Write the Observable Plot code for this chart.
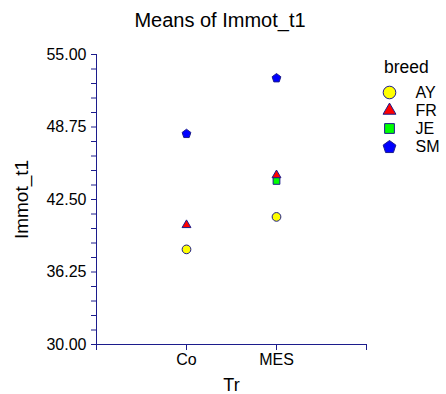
<!DOCTYPE html>
<html>
<head>
<meta charset="utf-8">
<script src="https://cdn.jsdelivr.net/npm/d3@7"></script>
<script src="https://cdn.jsdelivr.net/npm/@observablehq/plot@0.6"></script>
<style>
  html, body { margin: 0; padding: 0; background: #fff; }
  #wrap { position: relative; width: 446px; height: 394px; font-family: "Liberation Sans", Arial, sans-serif; color: #000; overflow: hidden; }
  #title { position: absolute; left: 0; width: 440px; top: 7px; text-align: center; font-size: 20px; line-height: 26px; }
  #chart { position: absolute; left: 0; top: 0; }
  #legTitle { position: absolute; left: 384px; top: 56px; font-size: 17.5px; line-height: 22px; }
  #legend { position: absolute; left: 376px; top: 80px; }
</style>
</head>
<body>
<div id="wrap">
  <div id="chart"></div>
  <div id="title">Means of Immot_t1</div>
  <div id="legTitle">breed</div>
  <div id="legend"></div>
</div>
<script>
// ---- data ----
const title = "Means of Immot_t1";
const xTitle = "Tr";
const yTitle = "Immot_t1";
const legendTitle = "breed";
const trCategories = ["Co", "MES"];
const breeds = ["AY", "FR", "JE", "SM"];
const coMeans = [38.2, 40.3, null, 48.2];
const mesMeans = [41.0, 44.6, 44.1, 53.0];
const yTickValues = [30, 36.25, 42.5, 48.75, 55];
const yTickLabels = ["30.00", "36.25", "42.50", "48.75", "55.00"];
const yMinorStep = 1.25;

// ---- styles ----
const breedFills = ["#ffff00", "#ff0000", "#00ff00", "#0000ff"];
const breedMarkerR = [4.35, 3.3, 3.8, 4.0];
const legendScale = 1.45;
const navy = "#1c1c8c";
const font = "'Liberation Sans', Arial, sans-serif";

// ---- derived ----
const yDomain = [yTickValues[0], yTickValues[yTickValues.length - 1]];
const xDomain = [0, trCategories.length + 1];
const seriesByTr = [coMeans, mesMeans];
const rows = [];
trCategories.forEach((tr, i) => {
  breeds.forEach((b, j) => {
    const v = seriesByTr[i][j];
    if (v != null) rows.push({tr, pos: i + 1, breed: b, value: v});
  });
});
const rFor = b => breedMarkerR[breeds.indexOf(b)];
const yTicks = d3.range(0, Math.round((yDomain[1] - yDomain[0]) / yMinorStep) + 1).map(k => yDomain[0] + k * yMinorStep);
const yLabelFor = v => {
  const idx = yTickValues.findIndex(t => Math.abs(t - v) < 1e-9);
  return idx >= 0 ? yTickLabels[idx] : "";
};
const xTicks = d3.range(xDomain[0], xDomain[1] + 1);
const xLabelFor = v => (v >= 1 && v <= trCategories.length ? trCategories[v - 1] : "");

// custom pentagon symbol (point up, flat bottom)
const pentagon = {
  draw(ctx, size) {
    const R = Math.sqrt(size / (2.5 * Math.sin(2 * Math.PI / 5)));
    for (let k = 0; k < 5; ++k) {
      const a = -Math.PI / 2 + k * 2 * Math.PI / 5;
      const px = R * Math.cos(a), py = R * Math.sin(a) + R * 0.1;
      if (k === 0) ctx.moveTo(px, py); else ctx.lineTo(px, py);
    }
    ctx.closePath();
  }
};
const breedSymbols = ["circle", "triangle", "square", pentagon];

const symbolScale = {domain: breeds, range: breedSymbols};
const colorScale = {domain: breeds, range: breedFills};

document.getElementById("title").textContent = title;
document.getElementById("legTitle").textContent = legendTitle;

const chart = Plot.plot({
  width: 446,
  height: 394,
  marginTop: 54,
  marginBottom: 50,
  marginLeft: 96,
  marginRight: 80,
  style: {fontFamily: font, fontSize: "16px", color: "#000", background: "transparent", overflow: "visible"},
  x: {type: "linear", domain: xDomain},
  y: {domain: yDomain},
  r: {type: "identity"},
  symbol: symbolScale,
  color: colorScale,
  marks: [
    Plot.axisY({
      ticks: yTicks, tickFormat: yLabelFor, tickSize: 5, tickPadding: 5,
      stroke: navy, fill: "#000", fontSize: 16,
      label: yTitle, labelAnchor: "center", labelArrow: "none", labelOffset: 82
    }),
    Plot.axisX({
      ticks: xTicks, tickFormat: xLabelFor, tickSize: 6, tickPadding: 3,
      stroke: navy, fill: "#000", fontSize: 16,
      label: xTitle, labelAnchor: "center", labelArrow: "none", labelOffset: 46
    }),
    Plot.ruleX([xDomain[0]], {y1: yDomain[0], y2: yDomain[1], stroke: navy}),
    Plot.ruleY([yDomain[0]], {x1: xDomain[0], x2: xDomain[1], stroke: navy}),
    Plot.dot(rows, {x: "pos", y: "value", symbol: "breed", fill: "breed", r: d => rFor(d.breed), stroke: navy, strokeWidth: 1})
  ]
});
chart.querySelectorAll("g[aria-label='y-axis label'] text").forEach(t => t.setAttribute("font-size", "19"));
chart.querySelectorAll("g[aria-label='x-axis label'] text").forEach(t => t.setAttribute("font-size", "18"));
document.getElementById("chart").appendChild(chart);

const legend = Plot.plot({
  width: 66,
  height: 80,
  margin: 0,
  style: {fontFamily: font, fontSize: "16px", color: "#000", background: "transparent", overflow: "visible"},
  y: {type: "point", domain: breeds, range: [11, 67], padding: 0, axis: null},
  r: {type: "identity"},
  symbol: symbolScale,
  color: colorScale,
  marks: [
    Plot.dot(breeds, {y: d => d, frameAnchor: "left", dx: 13, symbol: d => d, fill: d => d, r: d => rFor(d) * legendScale, stroke: navy, strokeWidth: 1}),
    Plot.text(breeds, {y: d => d, text: d => d, frameAnchor: "left", dx: 39, textAnchor: "start", fontSize: 16, fill: "#000"})
  ]
});
document.getElementById("legend").appendChild(legend);
</script>
</body>
</html>
